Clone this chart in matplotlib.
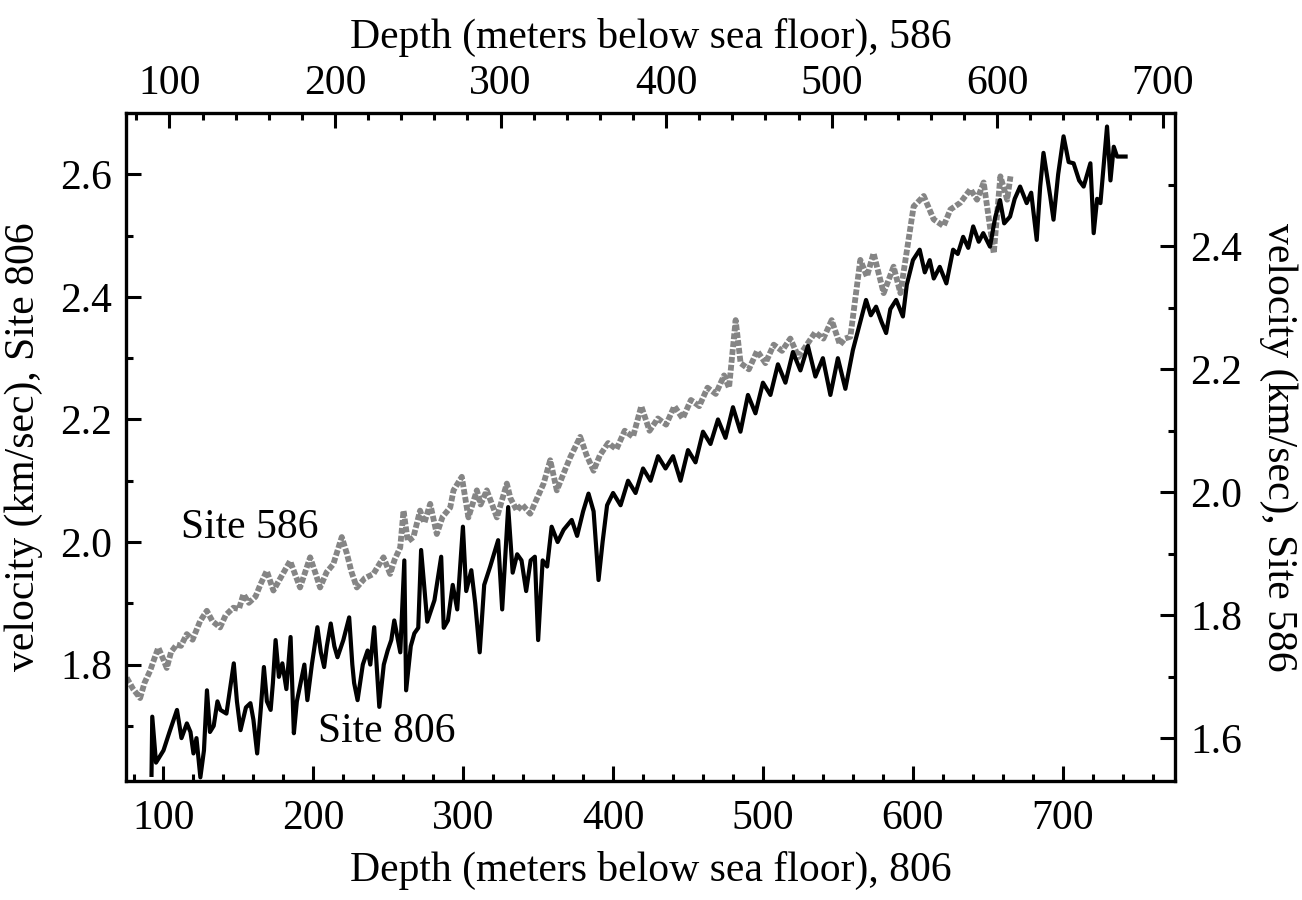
import matplotlib
matplotlib.use("Agg")
import matplotlib.pyplot as plt
from matplotlib.ticker import FixedLocator

plt.rcParams["font.family"] = ["Liberation Serif", "DejaVu Serif"]

# Site 806: depth below sea floor (bottom axis) and velocity (left axis)
depth_806 = [92, 92.5, 95, 100, 104, 109, 112, 115.6, 118, 120, 122, 124.6, 127, 129, 131,
             133.5, 136, 138, 142, 146.9, 149, 151.4, 155, 158, 160, 162.5, 165, 167, 169,
             171.5, 173, 174.8, 177, 179.3, 182, 184.8, 187, 189, 191.5, 194, 196, 199,
             202.7, 205, 207.2, 209, 211.6, 214, 216.1, 220, 223.9, 226, 227.2, 229.5, 233,
             236.2, 238, 240.6, 244, 247, 249.6, 252, 254, 258, 260.7, 261.9, 265, 267.4,
             270, 271.9, 276, 280.8, 285.3, 287, 289.8, 293, 296, 299.8, 302, 305.4, 308,
             311, 314, 318, 323.3, 326, 330, 333, 336, 338.9, 342, 345, 347.8, 350, 353,
             356, 359, 363, 367, 372.4, 376, 380, 383.6, 387, 390.3, 393, 396, 400, 405,
             410, 415, 420, 425, 430, 435, 440, 445, 450, 455, 460, 465, 470, 475, 480,
             485, 490, 495, 500, 505, 510, 515, 520, 525, 530, 535, 540, 545, 550, 555,
             560, 564, 568.8, 572, 575.5, 579, 582.2, 585, 588.9, 593.4, 596, 600.1, 604.6,
             608, 611.3, 614, 618, 622.4, 626.9, 630, 633.6, 637, 640.3, 644, 647, 651.5,
             655, 658.2, 661, 664.9, 668, 671.6, 676, 679, 682.7, 685, 687.2, 691.7, 693.9,
             697, 700.6, 704, 707.3, 711, 714, 718.5, 720.7, 723, 725.2, 729.6, 731.9,
             734.1, 736.3, 742]
vel_806 = [1.62, 1.715, 1.64, 1.66, 1.69, 1.726, 1.68, 1.704, 1.69, 1.655, 1.68, 1.616, 1.66,
           1.758, 1.69, 1.70, 1.74, 1.726, 1.72, 1.802, 1.74, 1.693, 1.73, 1.737, 1.71, 1.655,
           1.73, 1.796, 1.74, 1.726, 1.77, 1.84, 1.78, 1.802, 1.76, 1.845, 1.688, 1.74, 1.77,
           1.80, 1.742, 1.80, 1.861, 1.82, 1.796, 1.83, 1.867, 1.83, 1.812, 1.84, 1.877, 1.80,
           1.77, 1.742, 1.80, 1.823, 1.80, 1.861, 1.731, 1.80, 1.823, 1.84, 1.872, 1.82, 1.97,
           1.758, 1.83, 1.851, 1.86, 1.987, 1.87, 1.905, 1.976, 1.86, 1.872, 1.93, 1.89, 2.025,
           1.92, 1.954, 1.90, 1.82, 1.93, 1.96, 2.003, 1.89, 2.057, 1.95, 1.98, 1.97, 1.92,
           1.97, 1.976, 1.84, 1.97, 1.96, 2.025, 2.0, 2.02, 2.036, 2.01, 2.05, 2.079, 2.05,
           1.938, 2.0, 2.06, 2.08, 2.06, 2.1, 2.08, 2.12, 2.1, 2.14, 2.12, 2.14, 2.1, 2.15,
           2.13, 2.18, 2.16, 2.2, 2.17, 2.22, 2.18, 2.24, 2.21, 2.26, 2.24, 2.29, 2.26, 2.31,
           2.28, 2.32, 2.27, 2.3, 2.24, 2.3, 2.25, 2.313, 2.35, 2.395, 2.37, 2.384, 2.36,
           2.341, 2.38, 2.395, 2.368, 2.42, 2.46, 2.477, 2.44, 2.46, 2.43, 2.449, 2.422,
           2.477, 2.47, 2.498, 2.48, 2.515, 2.49, 2.504, 2.482, 2.53, 2.558, 2.52, 2.531,
           2.56, 2.58, 2.553, 2.57, 2.493, 2.58, 2.635, 2.564, 2.526, 2.6, 2.662, 2.62,
           2.618, 2.59, 2.58, 2.618, 2.504, 2.56, 2.553, 2.678, 2.59, 2.645, 2.629, 2.629]

# Site 586: depth below sea floor (top axis) and velocity (right axis)
depth_586 = [74.2, 78, 82.3, 85, 88.3, 91, 93.3, 96, 98.4, 101, 104.4, 107, 110.5, 114, 118.5,
             122.6, 126, 130.6, 134, 138.6, 142, 144.7, 148, 152, 155, 158.8, 162.8, 167,
             172.9, 178.9, 182, 185, 188, 191, 195, 199, 204.1, 207.2, 210, 213.2, 218, 223.2,
             229.3, 233.3, 236, 239.4, 241.4, 244, 247.4, 251.4, 254, 257.5, 261.5, 265,
             269.6, 271.6, 276.6, 280.6, 285.7, 288, 291.7, 297.8, 303.8, 306, 309.9, 313,
             317.9, 322, 326, 330, 334, 338, 342.1, 348.1, 352, 356.2, 360, 365, 370, 375,
             380, 385, 390, 395, 400, 405, 410, 415, 420, 425, 430, 435, 438, 442, 445, 450,
             455, 460, 465, 470, 475, 480, 485, 490, 495, 500, 505, 508, 511.3, 517.3, 521.3,
             525.3, 531.4, 537.4, 541.5, 545.5, 549.5, 555.6, 561.6, 567.6, 571.7, 577.7,
             583.8, 587.8, 591.8, 597.9, 601.9, 606, 608]
vel_586 = [1.698, 1.68, 1.665, 1.69, 1.709, 1.73, 1.747, 1.73, 1.714, 1.74, 1.752, 1.75, 1.769,
           1.76, 1.79, 1.807, 1.79, 1.78, 1.80, 1.812, 1.81, 1.834, 1.82, 1.83, 1.85, 1.872,
           1.84, 1.86, 1.888, 1.845, 1.87, 1.894, 1.87, 1.845, 1.87, 1.883, 1.927, 1.9, 1.87,
           1.845, 1.86, 1.867, 1.894, 1.867, 1.89, 1.91, 1.97, 1.92, 1.927, 1.97, 1.95, 1.981,
           1.932, 1.96, 1.975, 2.003, 2.025, 1.959, 2.003, 1.98, 2.003, 1.959, 2.014, 1.99,
           1.97, 1.98, 1.965, 1.99, 2.014, 2.052, 2.003, 2.03, 2.057, 2.09, 2.06, 2.035, 2.06,
           2.08, 2.07, 2.10, 2.09, 2.14, 2.10, 2.12, 2.11, 2.14, 2.12, 2.15, 2.14, 2.17, 2.16,
           2.19, 2.17, 2.28, 2.21, 2.20, 2.23, 2.21, 2.24, 2.23, 2.25, 2.22, 2.24, 2.26, 2.25,
           2.28, 2.24, 2.25, 2.253, 2.378, 2.351, 2.389, 2.324, 2.367, 2.324, 2.395, 2.465,
           2.482, 2.444, 2.433, 2.46, 2.471, 2.493, 2.476, 2.504, 2.389, 2.514, 2.476, 2.514]

depth_ticks = [100, 200, 300, 400, 500, 600, 700]
vel_ticks_806 = [1.8, 2.0, 2.2, 2.4, 2.6]
vel_ticks_586 = [1.6, 1.8, 2.0, 2.2, 2.4]

fs = 30
rect = [0.0968, 0.1322, 0.8057, 0.7422]
fig = plt.figure(figsize=(13.02, 9), dpi=100)

# Site 586 axes (top / right), drawn underneath
ax2 = fig.add_axes(rect, frameon=False)
ax2.plot(depth_586, vel_586, color="#858585", lw=4.2, linestyle=(0, (1.0, 0.35)))
ax2.set_xlim(73.8, 707.4)
ax2.set_ylim(1.530, 2.617)
ax2.xaxis.tick_top()
ax2.xaxis.set_label_position("top")
ax2.yaxis.tick_right()
ax2.yaxis.set_label_position("right")
ax2.xaxis.set_major_locator(FixedLocator(depth_ticks))
ax2.xaxis.set_minor_locator(FixedLocator(range(80, 708, 20)))
ax2.yaxis.set_major_locator(FixedLocator(vel_ticks_586))
ax2.yaxis.set_minor_locator(FixedLocator([1.7, 1.9, 2.1, 2.3, 2.5]))
ax2.set_xlabel("Depth (meters below sea floor), 586", fontsize=fs, labelpad=12)
ax2.set_ylabel("velocity (km/sec), Site 586", fontsize=fs, rotation=270, labelpad=40)

# Site 806 axes (bottom / left), on top
ax = fig.add_axes(rect, facecolor="none")
ax.plot(depth_806, vel_806, color="black", lw=3.0)
ax.set_xlim(75, 775)
ax.set_ylim(1.61, 2.70)
ax.xaxis.set_major_locator(FixedLocator(depth_ticks))
ax.xaxis.set_minor_locator(FixedLocator(range(80, 776, 20)))
ax.yaxis.set_major_locator(FixedLocator(vel_ticks_806))
ax.yaxis.set_minor_locator(FixedLocator([1.7, 1.9, 2.1, 2.3, 2.5]))
ax.set_xlabel("Depth (meters below sea floor), 806", fontsize=fs, labelpad=10)
ax.set_ylabel("velocity (km/sec), Site 806", fontsize=fs, labelpad=12)
for s in ax.spines.values():
    s.set_linewidth(2.4)

for a in (ax, ax2):
    a.tick_params(which="major", direction="in", length=11, width=2.2, labelsize=fs)
    a.tick_params(which="minor", direction="in", length=5, width=2.2)
ax.tick_params(axis="x", which="major", pad=13)
ax.tick_params(axis="y", which="major", pad=10)
ax2.tick_params(axis="x", which="major", pad=7)
ax2.tick_params(axis="y", which="major", pad=11)

ax.text(0.192, 0.4133, "Site 586", transform=fig.transFigure, fontsize=fs,
        ha="center", va="center")
ax.text(0.297, 0.1867, "Site 806", transform=fig.transFigure, fontsize=fs,
        ha="center", va="center")

fig.savefig("out.png", dpi=100, facecolor="white")
